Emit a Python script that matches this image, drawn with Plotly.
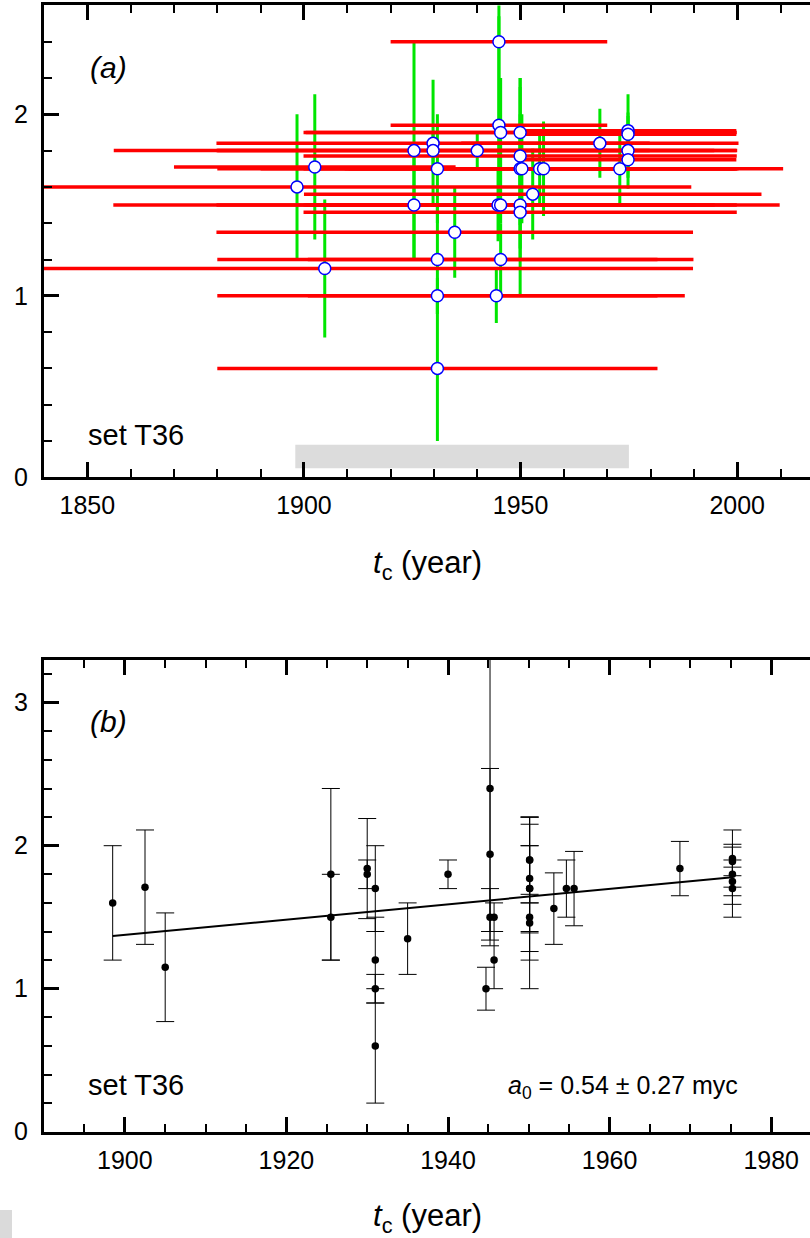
import plotly.graph_objects as go

# ---------------- data ----------------
# panel (a) positions of t_c, panel (b) positions of t_c
t_a = [1898.4, 1902.5, 1904.8, 1925.4, 1925.4, 1929.8, 1929.8, 1930.8, 1930.8, 1930.8,
       1930.8, 1934.8, 1940.0, 1945.0, 1945.0, 1945.4, 1944.8, 1945.4, 1945.4, 1944.4,
       1949.9, 1949.9, 1949.9, 1950.3, 1949.9, 1949.9, 1952.8, 1954.4, 1955.3, 1968.3,
       1972.9, 1974.8, 1974.8, 1974.8, 1974.8]
t_b = [1898.5, 1902.5, 1905.0, 1925.5, 1925.5, 1930.0, 1930.0, 1931.0, 1931.0, 1931.0,
       1931.0, 1935.0, 1940.0, 1945.2, 1945.2, 1950.1, 1945.2, 1945.7, 1945.7, 1944.7,
       1950.1, 1950.1, 1950.1, 1950.1, 1950.1, 1950.1, 1953.1, 1954.65, 1955.6, 1968.7,
       1975.2, 1975.2, 1975.2, 1975.2, 1975.2]
a_val = [1.60, 1.71, 1.15, 1.80, 1.50, 1.84, 1.80, 1.70, 1.20, 1.00,
         0.60, 1.35, 1.80, 2.40, 1.94, 1.90, 1.50, 1.50, 1.20, 1.00,
         1.90, 1.77, 1.70, 1.70, 1.50, 1.46, 1.56, 1.70, 1.70, 1.84,
         1.70, 1.91, 1.89, 1.80, 1.75]
a_err = [0.40, 0.40, 0.38, 0.60, 0.30, 0.35, 0.10, 0.30, 0.30, 0.10,
         0.40, 0.25, 0.10, 1.00, 0.60, 0.30, 0.20, 0.10, 0.20, 0.15,
         0.30, 0.38, 0.50, 0.30, 0.50, 0.20, 0.25, 0.20, 0.26, 0.19,
         0.20, 0.20, 0.10, 0.21, 0.10]
t_err = [91.0, 32.5, 85.0, 69.3, 69.4, 50.0, 50.0, 50.8, 50.8, 50.8,
         50.8, 55.0, 60.0, 25.0, 25.0, 45.0, 65.0, 45.0, 44.5, 43.5,
         50.0, 50.0, 50.0, 60.3, 50.0, 50.0, 52.8, 45.0, 45.0, 32.0,
         27.0, 25.0, 25.0, 25.0, 25.0]
fit_t = [1898.5, 1975.2]
fit_a = [1.368, 1.779]
span_t = [1898.0, 1975.0]
span_a = [0.05, 0.18]

# ---------------- layout helpers ----------------
W, H = 810, 1238
L = 44


def px(x):
    return (x - L) / (W - L)


def py(y):
    return 1 - y / H


FONT = "Liberation Sans, Arial, Helvetica, sans-serif"
GREEN = "rgb(0,230,0)"

fig = go.Figure()

# ---- panel (a) ----
fig.add_trace(go.Scatter(
    x=t_a, y=a_val, mode="markers", marker=dict(size=1, color="rgba(0,0,0,0)"),
    error_y=dict(type="data", array=a_err, color=GREEN, thickness=3, width=0),
    xaxis="x", yaxis="y", hoverinfo="skip", showlegend=False))
fig.add_trace(go.Scatter(
    x=t_a, y=a_val, mode="markers", marker=dict(size=1, color="rgba(0,0,0,0)"),
    error_x=dict(type="data", array=t_err, color="#FF0000", thickness=3.5, width=0),
    xaxis="x", yaxis="y", hoverinfo="skip", showlegend=False))
fig.add_trace(go.Scatter(
    x=t_a, y=a_val, mode="markers",
    marker=dict(size=12, color="white", line=dict(color="#0000FF", width=1.5)),
    xaxis="x", yaxis="y", showlegend=False))

# ---- panel (b) ----
fig.add_trace(go.Scatter(
    x=t_b, y=a_val, mode="markers", marker=dict(size=7.5, color="black"),
    error_y=dict(type="data", array=a_err, color="black", thickness=1, width=9),
    xaxis="x2", yaxis="y2", showlegend=False))
fig.add_trace(go.Scatter(
    x=fit_t, y=fit_a, mode="lines", line=dict(color="black", width=2),
    xaxis="x2", yaxis="y2", showlegend=False))

# gray span in panel (a)
fig.add_shape(type="rect", xref="x", yref="y", x0=span_t[0], x1=span_t[1],
              y0=span_a[0], y1=span_a[1], fillcolor="#DCDCDC",
              line=dict(width=0), layer="below")
# page artefact bottom-left
fig.add_shape(type="rect", xref="paper", yref="paper", x0=px(0), x1=px(12),
              y0=py(1238), y1=py(1210), fillcolor="#DADADA", line=dict(width=0))


def xax(domain_anchor, rng, tick0, dtick, mdtick):
    return dict(domain=[0, 1], anchor=domain_anchor, range=rng, automargin=False,
                tickmode="linear", tick0=tick0, dtick=dtick,
                ticks="inside", ticklen=15, tickwidth=2.5, tickcolor="black",
                minor=dict(tickmode="linear", tick0=tick0, dtick=mdtick,
                           ticks="inside", ticklen=8, tickwidth=1.5, tickcolor="black"),
                showline=True, linewidth=3, linecolor="black", mirror="ticks",
                showgrid=False, zeroline=False, ticklabelstandoff=4,
                tickfont=dict(family=FONT, size=25, color="black"))


def yax(anchor, dom, rng):
    return dict(domain=dom, anchor=anchor, range=rng, automargin=False,
                tickmode="linear", tick0=0, dtick=1,
                ticks="inside", ticklen=15, tickwidth=2.5, tickcolor="black",
                minor=dict(tickmode="linear", tick0=0, dtick=0.2,
                           ticks="inside", ticklen=8, tickwidth=1.5, tickcolor="black"),
                showline=True, linewidth=3, linecolor="black", mirror=False,
                showgrid=False, zeroline=False, ticklabelstandoff=8,
                tickfont=dict(family=FONT, size=25, color="black"))


def yax_right(over, anchor, dom, rng):
    d = yax(anchor, dom, rng)
    d.update(overlaying=over, side="right", showline=False, showticklabels=False)
    return d


dom_a = [py(477.3), py(477.3 - 2.6 * 181.5)]
dom_b = [py(1131.7), py(1131.7 - 3.3 * 143.0)]

fig.update_layout(
    width=W, height=H,
    margin=dict(l=L, r=0, t=0, b=0, pad=0, autoexpand=False),
    paper_bgcolor="white", plot_bgcolor="white",
    xaxis=xax("y", [1840, 2016.8], 1850, 50, 10),
    yaxis=yax("x", dom_a, [0, 2.6]),
    yaxis3=yax_right("y", "x", dom_a, [0, 2.6]),
    xaxis2=xax("y2", [1890, 1984.8], 1900, 20, 5),
    yaxis2=yax("x2", dom_b, [0, 3.3]),
    yaxis4=yax_right("y2", "x2", dom_b, [0, 3.3]),
    showlegend=False,
)

ann = [
    dict(text="<i>(a)</i>", x=px(88), y=py(68), xanchor="left", yanchor="middle", size=30),
    dict(text="set T36", x=px(86), y=py(435), xanchor="left", yanchor="middle", size=29),
    dict(text="<i>t</i><sub>c</sub> (year)", x=px(428), y=py(565), xanchor="center", yanchor="middle", size=31),
    dict(text="<i>(b)</i>", x=px(88), y=py(721), xanchor="left", yanchor="middle", size=30),
    dict(text="set T36", x=px(86), y=py(1085), xanchor="left", yanchor="middle", size=29),
    dict(text="<i>a</i><sub>0</sub> = 0.54 ± 0.27 myc", x=px(740), y=py(1087), xanchor="right", yanchor="middle", size=25),
    dict(text="<i>t</i><sub>c</sub> (year)", x=px(428), y=py(1218), xanchor="center", yanchor="middle", size=31),
]
for a in ann:
    fig.add_annotation(text=a["text"], xref="paper", yref="paper", x=a["x"], y=a["y"],
                       xanchor=a["xanchor"], yanchor=a["yanchor"], showarrow=False,
                       font=dict(family=FONT, size=a["size"], color="black"))

fig.write_html("out.html", config={"displayModeBar": False},
               post_script="document.body.style.margin='0';")
